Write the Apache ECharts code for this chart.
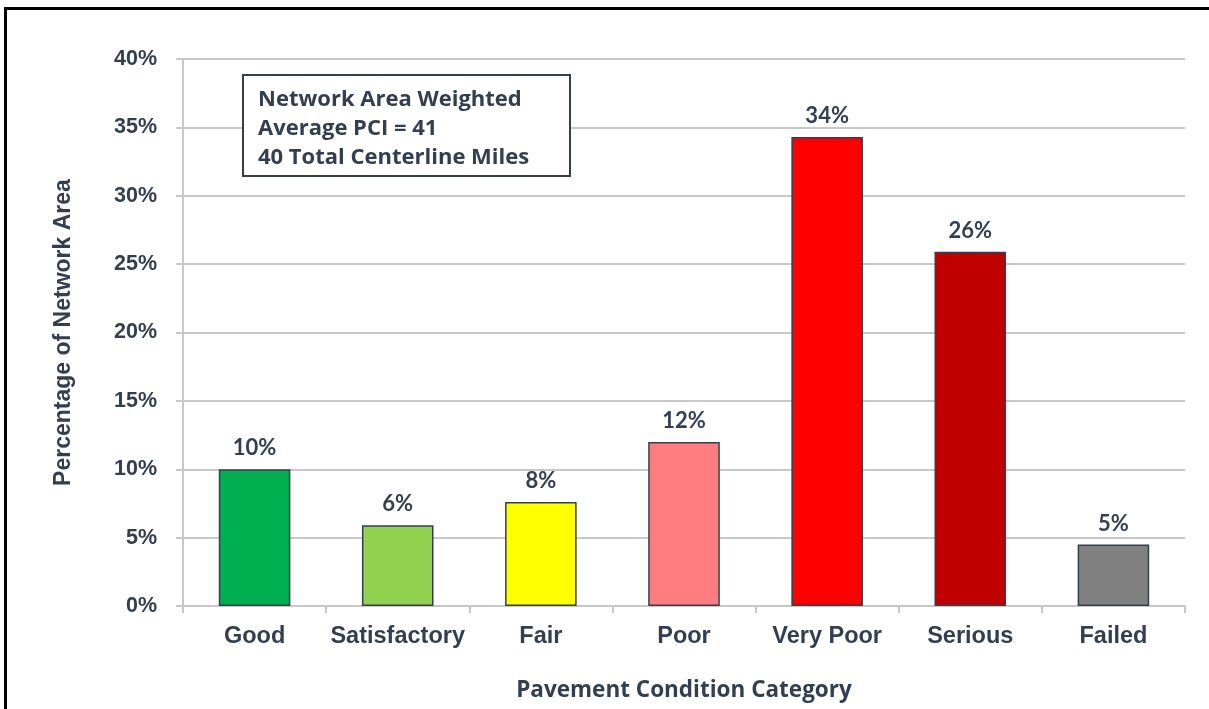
<!DOCTYPE html>
<html>
<head>
<meta charset="utf-8">
<script src="https://cdn.jsdelivr.net/npm/echarts@6/dist/echarts.min.js"></script>
<style>
  html, body { margin: 0; padding: 0; background: #ffffff; }
  #chart { width: 1209px; height: 709px; }
</style>
</head>
<body>
<div id="chart"></div>
<script>
// Pavement condition distribution (percentage of network area)
const categories = ['Good', 'Satisfactory', 'Fair', 'Poor', 'Very Poor', 'Serious', 'Failed'];
const shares = [10.0, 5.9, 7.6, 12.0, 34.3, 25.9, 4.5];
const barColors = ['#00b050', '#92d050', '#ffff00', '#ff7c80', '#ff0000', '#c00000', '#808080'];
const summaryLines = [
  'Network Area Weighted',
  'Average PCI = 41',
  '40 Total Centerline Miles'
];

const ink = '#333f50';
const gridGrey = '#c8c8c8';

const chart = echarts.init(document.getElementById('chart'), null, { renderer: 'canvas' });

chart.setOption({
  animation: false,
  backgroundColor: '#ffffff',
  grid: { left: 183, right: 24, top: 59, bottom: 103, containLabel: false },
  xAxis: {
    type: 'category',
    data: categories,
    axisLine: { lineStyle: { color: gridGrey, width: 2 } },
    axisTick: { show: true, length: 7, lineStyle: { color: gridGrey, width: 2 } },
    axisLabel: {
      interval: 0,
      color: ink,
      fontFamily: 'Liberation Sans, Arial, sans-serif',
      fontWeight: 'bold',
      fontSize: 23.5,
      margin: 19
    },
    name: 'Pavement Condition Category',
    nameLocation: 'middle',
    nameGap: 73,
    nameTextStyle: {
      color: ink,
      fontFamily: 'Open Sans, sans-serif',
      fontWeight: 'bold',
      fontSize: 22.5
    }
  },
  yAxis: {
    type: 'value',
    min: 0,
    max: 40,
    interval: 5,
    axisLine: { show: true, lineStyle: { color: gridGrey, width: 2 } },
    axisTick: { show: true, length: 7, lineStyle: { color: gridGrey, width: 2 } },
    splitLine: { lineStyle: { color: gridGrey, width: 2 } },
    axisLabel: {
      formatter: '{value}%',
      color: ink,
      fontFamily: 'Liberation Sans, Arial, sans-serif',
      fontWeight: 'bold',
      fontSize: 21.5,
      margin: 26
    },
    name: 'Percentage of Network Area',
    nameLocation: 'middle',
    nameGap: 108,
    nameTextStyle: {
      color: ink,
      fontFamily: 'Liberation Sans, Arial, sans-serif',
      fontWeight: 'bold',
      fontSize: 23
    }
  },
  series: [{
    type: 'bar',
    data: shares.map((v, i) => ({ value: v, itemStyle: { color: barColors[i] } })),
    barWidth: '50%',
    itemStyle: { borderColor: ink, borderWidth: 1.5 },
    label: {
      show: true,
      position: 'top',
      distance: 10,
      formatter: p => Math.round(p.value) + '%',
      color: ink,
      fontFamily: 'Lato, sans-serif',
      fontWeight: 'bold',
      fontSize: 22
    }
  }],
  graphic: [
    // frame along the top and left edges
    { type: 'line', z: 100, shape: { x1: 4, y1: 8.5, x2: 1209, y2: 8.5 }, style: { stroke: '#000000', lineWidth: 3 } },
    { type: 'line', z: 100, shape: { x1: 5.5, y1: 7, x2: 5.5, y2: 709 }, style: { stroke: '#000000', lineWidth: 3 } },
    // summary annotation box, drawn above the grid lines
    {
      type: 'group',
      left: 242,
      top: 74,
      z: 100,
      children: [
        { type: 'rect', z: 100, shape: { x: 0, y: 0, width: 327, height: 101 }, style: { fill: '#ffffff', stroke: ink, lineWidth: 2 } },
        {
          type: 'text',
          z: 101,
          left: 15,
          top: 10,
          style: {
            text: summaryLines.join('\n'),
            fill: ink,
            font: 'bold 22px "Open Sans", sans-serif',
            lineHeight: 29
          }
        }
      ]
    }
  ]
});
</script>
</body>
</html>
